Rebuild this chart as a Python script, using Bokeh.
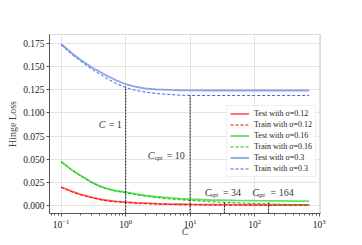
from bokeh.plotting import figure
from bokeh.models import Range1d, FixedTicker, NumeralTickFormatter, Label, Legend, LegendItem, LogTicker
from bokeh.embed import file_html
from bokeh.resources import INLINE

# ---- data ----
C = [0.1, 0.15, 0.2, 0.3, 0.4, 0.5, 0.7, 1, 1.5, 2, 3, 5, 7, 10, 20, 50, 100, 200, 400, 700]

test_012 = [0.0200, 0.0150, 0.0120, 0.0088, 0.0068, 0.0057, 0.0045, 0.0037, 0.0029, 0.0025,
            0.0020, 0.0016, 0.0014, 0.0012, 0.0010, 0.0009, 0.0008, 0.0008, 0.0008, 0.0008]
train_012 = [0.0196, 0.0146, 0.0116, 0.0084, 0.0064, 0.0053, 0.0041, 0.0033, 0.0025, 0.0021,
             0.0016, 0.0012, 0.0010, 0.0008, 0.0006, 0.0005, 0.0004, 0.0004, 0.0003, 0.0003]

test_016 = [0.0475, 0.0380, 0.0325, 0.0250, 0.0210, 0.0185, 0.0160, 0.0145, 0.0122, 0.0110,
            0.0095, 0.0082, 0.0075, 0.0068, 0.0060, 0.0055, 0.0052, 0.0050, 0.0048, 0.0047]
train_016 = [0.0470, 0.0375, 0.0320, 0.0245, 0.0205, 0.0180, 0.0155, 0.0138, 0.0115, 0.0102,
             0.0086, 0.0070, 0.0062, 0.0055, 0.0042, 0.0030, 0.0022, 0.0016, 0.0012, 0.0010]

test_03 = [0.1745, 0.1640, 0.1575, 0.1490, 0.1445, 0.1405, 0.1355, 0.1310, 0.1280, 0.1265,
           0.1255, 0.1248, 0.1245, 0.1243, 0.1242, 0.1242, 0.1242, 0.1242, 0.1242, 0.1242]
train_03 = [0.1735, 0.1625, 0.1560, 0.1470, 0.1420, 0.1375, 0.1320, 0.1275, 0.1240, 0.1225,
            0.1210, 0.1198, 0.1192, 0.1189, 0.1188, 0.1188, 0.1188, 0.1188, 0.1188, 0.1188]

marker_C = [1, 10, 34, 164]
marker_top = [0.1285, 0.1188, 0.0040, 0.0040]
marker_texts = [("C", "", "= 1"), ("C", "opt", "= 10"), ("C", "opt", "= 34"), ("C", "opt", "= 164")]

y_ticks = [0.000, 0.025, 0.050, 0.075, 0.100, 0.125, 0.150, 0.175]

FONT = "Liberation Serif"
Y0, Y1 = -0.0086, 0.1847

p = figure(width=354, height=245, x_axis_type="log", output_backend="svg",
           toolbar_location=None, x_range=Range1d(10 ** -1.18, 10 ** 3.02),
           y_range=Range1d(Y0, Y1), min_border_left=49, min_border_right=34,
           min_border_top=34, min_border_bottom=32)
p.background_fill_color = "white"
p.border_fill_color = "white"
p.outline_line_color = "#d9d9d9"

series = [
    ("red", test_012, train_012, "0.12"),
    ("#00c800", test_016, train_016, "0.16"),
    ("royalblue", test_03, train_03, "0.3"),
]
items = []
for color, te, tr, s in series:
    r1 = p.line(C, te, line_color=color, line_alpha=0.6, line_width=1.8)
    r2 = p.line(C, tr, line_color=color, line_width=1, line_dash="3 2")
    items.append(LegendItem(label="Test with σ=" + s, renderers=[r1]))
    items.append(LegendItem(label="Train with σ=" + s, renderers=[r2]))

# vertical dotted markers
p.segment(x0=marker_C, y0=[Y0] * len(marker_C), x1=marker_C, y1=marker_top,
          line_color="#222222", line_width=1.1, line_dash="2 1")

# annotations (offsets in px relative to marker x)
ann = [
    (0.0880, -27, None, -17),
    (0.0535, -42.5, -35.5, -23.5),
    (0.0138, -19.6, -14.0, -1.5),
    (0.0138, -16.2, -11.2, 2.0),
]
for (cx, (t1, t2, t3), (yy, o1, o2, o3)) in zip(marker_C, marker_texts, ann):
    p.add_layout(Label(x=cx, y=yy, text=t1, x_offset=o1, text_font=FONT, text_font_style="italic",
                       text_font_size="10px", text_baseline="middle", text_color="#333333"))
    if t2:
        p.add_layout(Label(x=cx, y=yy, text=t2, x_offset=o2, y_offset=-2.5, text_font=FONT,
                           text_font_style="italic", text_font_size="6px", text_baseline="middle",
                           text_color="#333333"))
    p.add_layout(Label(x=cx, y=yy, text=t3, x_offset=o3, text_font=FONT,
                       text_font_size="10px", text_baseline="middle", text_color="#333333"))

legend = Legend(items=items, location=(177, 36), label_text_font=FONT,
                label_text_font_size="8px", glyph_width=19, glyph_height=9, label_height=9,
                spacing=2, padding=3, margin=0, label_standoff=5,
                border_line_color="#dddddd", background_fill_alpha=0.85, label_text_color="#222222")
p.add_layout(legend)

# axes
p.yaxis.ticker = FixedTicker(ticks=y_ticks)
p.yaxis.formatter = NumeralTickFormatter(format="0.000")
p.xaxis.ticker = LogTicker(desired_num_ticks=5, num_minor_ticks=10)
for ax in (p.xaxis[0], p.yaxis[0]):
    ax.major_label_text_font = FONT
    ax.major_label_text_font_size = "9.5px"
    ax.major_label_text_color = "#222222"
    ax.axis_label_text_font = FONT
    ax.axis_label_text_font_size = "10px"
    ax.axis_label_text_font_style = "normal"
    ax.axis_line_color = "#555555"
    ax.major_tick_line_color = "#555555"
    ax.minor_tick_line_color = "#555555"
    ax.major_tick_out = 3
    ax.major_tick_in = 0
    ax.minor_tick_out = 2
    ax.minor_tick_in = 0
    ax.major_label_standoff = 2
    ax.axis_label_standoff = 2
p.yaxis.minor_tick_line_color = None
p.yaxis.axis_label = "Hinge Loss"
p.xaxis.axis_label = "C"
p.xaxis.axis_label_text_font_style = "italic"
p.xaxis.axis_label_standoff = -5
p.grid.grid_line_color = "#e3e3e3"
p.grid.grid_line_width = 1

open("out.html", "w").write(file_html(p, INLINE))
